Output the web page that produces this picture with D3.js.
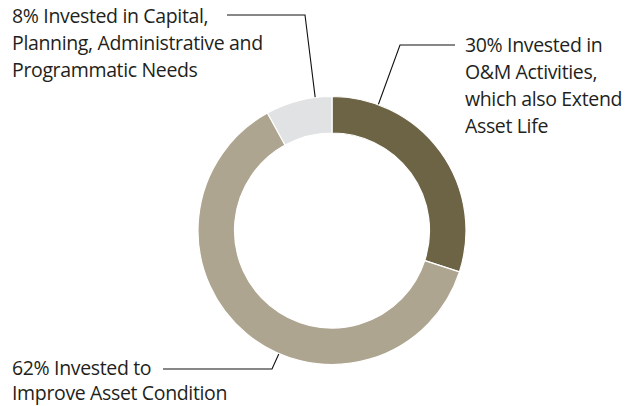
<!DOCTYPE html>
<html>
<head>
<meta charset="utf-8">
<script src="https://cdn.jsdelivr.net/npm/d3@7"></script>
<style>
  body { margin: 0; background: #fff; }
  svg text { font-family: "Open Sans", "Noto Sans", sans-serif; fill: #231f20; }
</style>
</head>
<body>
<script>
(function() {
	var width = 634,
	height = 406;

	// slices, clockwise from 12 o'clock
	var categories = ['O&M', 'Improve', 'Capital'];
	var shares = [30, 62, 8];
	var colours = ['#6d6446', '#aea590', '#e1e2e3'];

	var labelLines = [
		['30% Invested in', 'O&M Activities,', 'which also Extend', 'Asset Life'],
		['62% Invested to', 'Improve Asset Condition'],
		['8% Invested in Capital,', 'Planning, Administrative and', 'Programmatic Needs']
	];

	var cx = 332, cy = 230.5,
	outerR = 134, innerR = 97.5;

	var svg = d3.select('body').append('svg')
	.attr('width', width)
	.attr('height', height);

	var pie = d3.pie().sort(null).value(function(d) { return d; });
	var arc = d3.arc().innerRadius(innerR).outerRadius(outerR);

	var arcs = pie(shares);

	var donut = svg.append('g')
	.attr('transform', 'translate(' + cx + ',' + cy + ')');

	donut.selectAll('path')
	.data(arcs)
	.enter().append('path')
	.attr('d', arc)
	.attr('fill', function(d, i) { return colours[i]; })
	.attr('stroke', '#fff')
	.attr('stroke-width', 1.2);

	// text position + elbow of the leader line
	var labels = [
		{x: 465, y: 52, lineH: 27, elbow: [[455, 45], [400, 45]]},
		{x: 12, y: 374.5, lineH: 25.5, elbow: [[163, 369], [272, 369]]},
		{x: 12, y: 23, lineH: 27, elbow: [[227, 15], [305, 15]]}
	];

	// where the leader meets the ring, as a fraction through each slice
	var leaderAt = [0.187, 0.427, 0.75];

	labels.forEach(function(l, i) {
		var a = arcs[i].startAngle + (arcs[i].endAngle - arcs[i].startAngle) * leaderAt[i];
		var ex = cx + Math.sin(a) * (outerR + 0.5),
		ey = cy - Math.cos(a) * (outerR + 0.5);
		svg.append('path')
		.attr('d', d3.line()(l.elbow.concat([[ex, ey]])))
		.attr('fill', 'none')
		.attr('stroke', '#111')
		.attr('stroke-width', 1.1);

		var t = svg.append('text')
		.attr('font-size', 19.5)
		.attr('letter-spacing', -0.35);
		labelLines[i].forEach(function(s, j) {
			t.append('tspan')
			.attr('x', l.x)
			.attr('y', l.y + j * l.lineH)
			.text(s);
		});
	});
}());
</script>
</body>
</html>
